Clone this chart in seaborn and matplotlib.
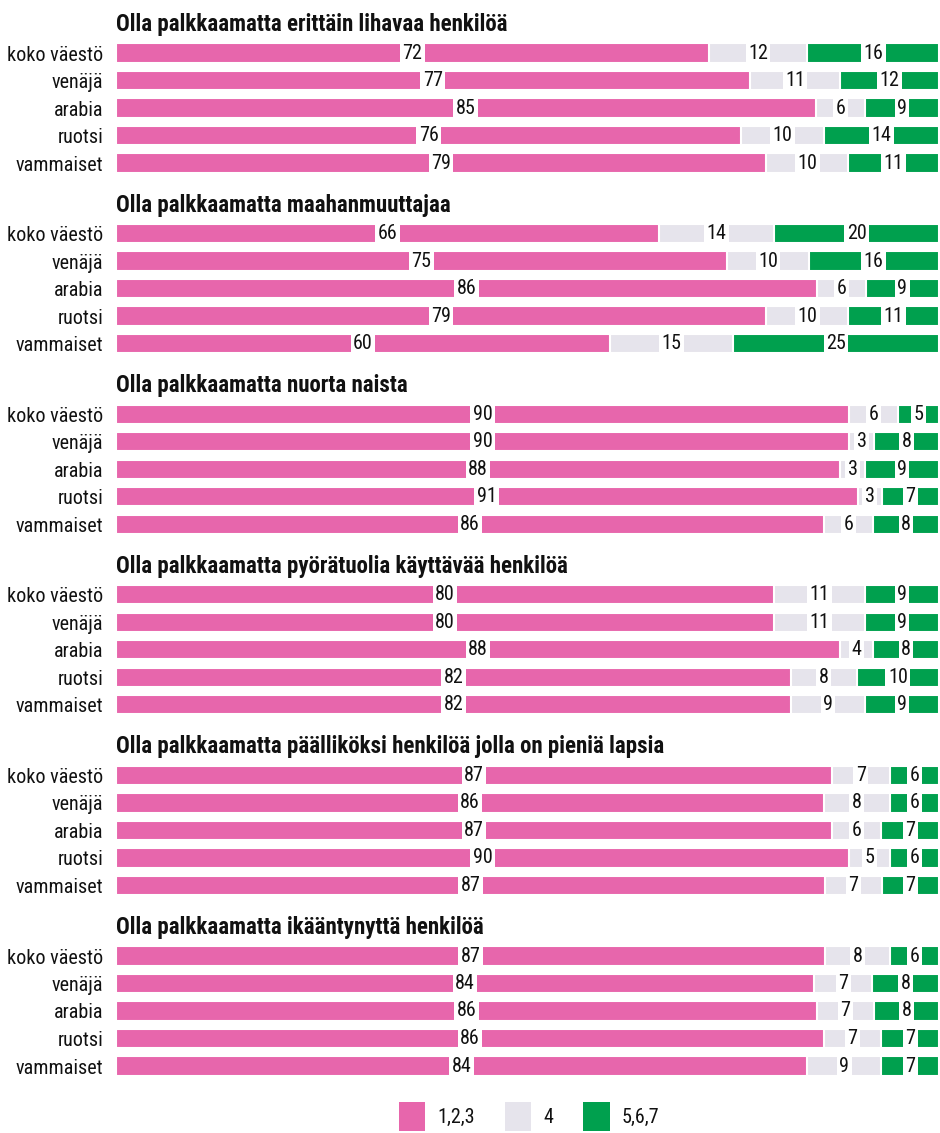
import numpy as np
import pandas as pd
import matplotlib
matplotlib.use('Agg')
import matplotlib.pyplot as plt
import seaborn as sns
from matplotlib.patches import Patch
from matplotlib import font_manager

titles = [
    'Olla palkkaamatta erittäin lihavaa henkilöä',
    'Olla palkkaamatta maahanmuuttajaa',
    'Olla palkkaamatta nuorta naista',
    'Olla palkkaamatta pyörätuolia käyttävää henkilöä',
    'Olla palkkaamatta päälliköksi henkilöä jolla on pieniä lapsia',
    'Olla palkkaamatta ikääntynyttä henkilöä',
]
groups = ['koko väestö', 'venäjä', 'arabia', 'ruotsi', 'vammaiset']
legend_labels = ['1,2,3', '4', '5,6,7']

# values per panel, rows in order of groups
low = [
    [72, 77, 85, 76, 79],
    [66, 75, 86, 79, 60],
    [90, 90, 88, 91, 86],
    [80, 80, 88, 82, 82],
    [87, 86, 87, 90, 87],
    [87, 84, 86, 86, 84],
]
mid = [
    [12, 11, 6, 10, 10],
    [14, 10, 6, 10, 15],
    [6, 3, 3, 3, 6],
    [11, 11, 4, 8, 9],
    [7, 8, 6, 5, 7],
    [8, 7, 7, 7, 9],
]
high = [
    [16, 12, 9, 14, 11],
    [20, 16, 9, 11, 25],
    [5, 8, 9, 7, 8],
    [9, 9, 8, 10, 9],
    [6, 6, 7, 6, 7],
    [6, 8, 8, 7, 7],
]

PINK = '#E766AC'
GRAY = '#E6E4EC'
GREEN = '#00A04E'
colors = [PINK, GRAY, GREEN]

sns.set_theme(style='white')

# look for a narrow font, otherwise plain DejaVu at a smaller size
family, stretch, fs, tfs = 'DejaVu Sans', 'normal', 12, 11.5
narrow = [f for f in font_manager.fontManager.ttflist
          if f.stretch in ('condensed', 'semi-condensed', 'extra-condensed')
          or 'Narrow' in f.name or 'Condensed' in f.name]
for pref in ['Roboto Condensed', 'Liberation Sans Narrow', 'Open Sans Condensed',
             'DejaVu Sans Condensed', 'Noto Sans Condensed', 'DejaVu Sans', 'Noto Sans',
             'Open Sans', 'Roboto']:
    hit = [f for f in narrow if f.name == pref]
    if hit:
        family, stretch = pref, hit[0].stretch
        if stretch == 'normal':
            stretch = 'condensed'
        fs, tfs = 14.5, 16.5
        break

plt.rcParams['font.family'] = [family, 'DejaVu Sans']
plt.rcParams['font.stretch'] = stretch
plt.rcParams['text.color'] = '#111111'

W, H = 940, 1133
fig = plt.figure(figsize=(W / 100, H / 100), dpi=100)

x0, x1 = 116, 939
pitch = 27.5
panel_step = 180.6

for p in range(6):
    top = 39.25 + p * panel_step
    ax = fig.add_axes([x0 / W, 1 - (top + 5 * pitch) / H, (x1 - x0) / W, 5 * pitch / H])
    df = pd.DataFrame({'group': groups, 'a': low[p], 'b': mid[p], 'c': high[p]})
    tot = df[['a', 'b', 'c']].sum(axis=1)
    df['pa'] = df['a'] / tot * 100
    df['pb'] = df['b'] / tot * 100
    df['pc'] = df['c'] / tot * 100
    df['cum3'] = df['pa'] + df['pb'] + df['pc']
    df['cum2'] = df['pa'] + df['pb']
    for col, c in [('cum3', GREEN), ('cum2', GRAY), ('pa', PINK)]:
        sns.barplot(data=df, x=col, y='group', orient='h', color=c, ax=ax,
                    width=0.7, edgecolor='white', linewidth=1.5, saturation=1)
    for i, r in df.iterrows():
        starts = [0, r['pa'], r['cum2']]
        widths = [r['pa'], r['pb'], r['pc']]
        vals = [r['a'], r['b'], r['c']]
        for s, w, v in zip(starts, widths, vals):
            ax.text(s + w / 2, i, str(int(v)), ha='center', va='center', fontsize=fs,
                    bbox=dict(facecolor='white', edgecolor='none', pad=1.8))
    ax.set_xlim(0, 100)
    ax.set_ylim(4.5, -0.5)
    ax.set_xlabel('')
    ax.set_ylabel('')
    ax.set_xticks([])
    ax.tick_params(axis='y', length=0, labelsize=fs, labelcolor='#111111', pad=9)
    sns.despine(ax=ax, left=True, bottom=True)
    ax.set_title(titles[p], loc='left', fontsize=tfs, fontweight='bold', pad=6)

handles = [Patch(facecolor=c, edgecolor='none') for c in colors]
fig.legend(handles, legend_labels, loc='lower center', bbox_to_anchor=(0.563, -0.014), ncol=3,
           frameon=False, fontsize=fs, handlelength=1.3, handleheight=1.8,
           columnspacing=1.5, handletextpad=0.6)

fig.savefig('out.png', dpi=100)
